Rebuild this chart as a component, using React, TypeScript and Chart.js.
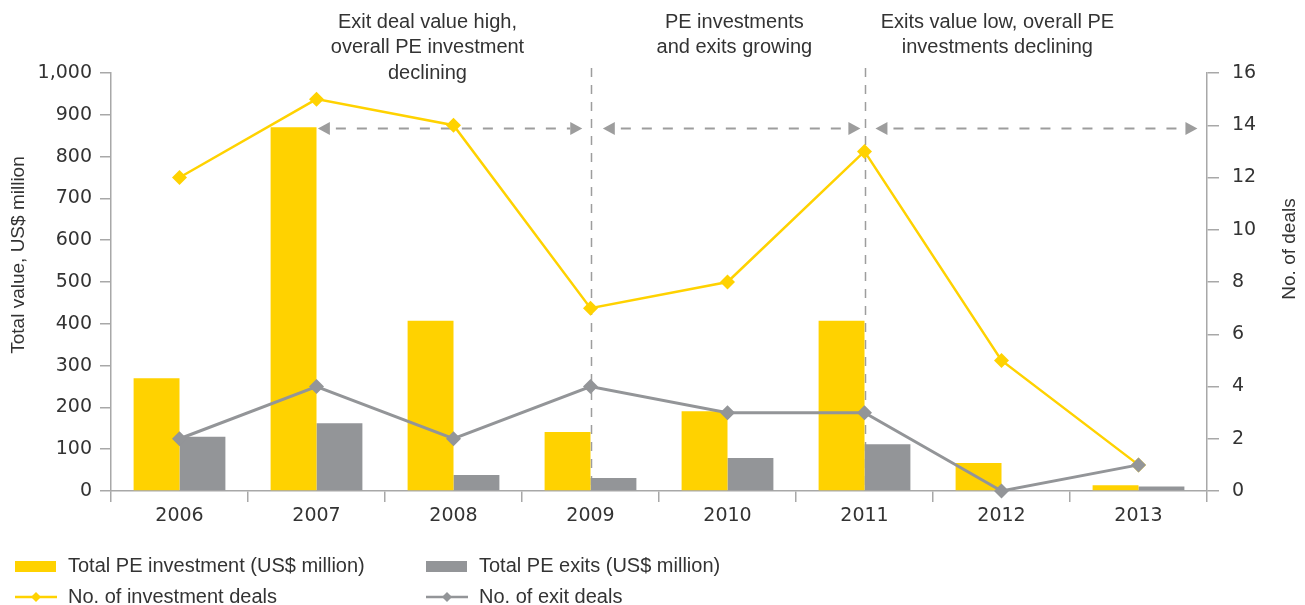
import React, { useEffect, useRef } from "react";
import { Chart, registerables } from "chart.js";

Chart.register(...registerables);

// ---- data ----
const years = ["2006", "2007", "2008", "2009", "2010", "2011", "2012", "2013"];
const peInvestment = [270, 870, 407, 141, 191, 407, 67, 14];
const peExits = [130, 162, 38, 31, 79, 112, 0, 11];
const investmentDeals = [12, 15, 14, 7, 8, 13, 5, 1];
const exitDeals = [2, 4, 2, 4, 3, 3, 0, 1];

const leftMax = 1000;
const leftStep = 100;
const rightMax = 16;
const rightStep = 2;

const leftTitle = "Total value, US$ million";
const rightTitle = "No. of deals";

const phaseLabels = [
  ["Exit deal value high,", "overall PE investment", "declining"],
  ["PE investments", "and exits growing"],
  ["Exits value low, overall PE", "investments declining"],
];
const phaseCenters = [1.81, 4.05, 5.97]; // category index units
const phaseDividers = [3, 5];
const phaseArrows = [
  [1.01, 2.94],
  [3.09, 4.97],
  [5.08, 7.43],
];
const arrowLevel = 13.9; // right-axis units

const YELLOW = "#FFD200";
const GRAY = "#939598";
const AXIS = "#a8a8a8";
const TEXT = "#333333";
const LABEL_FONT = '"Liberation Sans", Arial, sans-serif';
const TICK_FONT = '"DejaVu Sans", Verdana, sans-serif';

const overlayPlugin = {
  id: "overlay",
  beforeDatasetsDraw(chart: any) {
    const { ctx, chartArea, scales } = chart;
    const x = scales.x;
    const yR = scales.y1;
    ctx.save();
    ctx.strokeStyle = "#9d9d9d";
    ctx.fillStyle = "#9d9d9d";
    ctx.lineWidth = 1.5;
    ctx.setLineDash([9, 8]);
    phaseDividers.forEach((v) => {
      const px = Math.round(x.getPixelForValue(v)) + 0.5;
      ctx.beginPath();
      ctx.moveTo(px, chartArea.top - 5);
      ctx.lineTo(px, chartArea.bottom);
      ctx.stroke();
    });
    const ay = Math.round(yR.getPixelForValue(arrowLevel)) + 0.5;
    const headL = 12;
    const headH = 6.5;
    phaseArrows.forEach(([a, b]) => {
      const x0 = x.getPixelForValue(a);
      const x1 = x.getPixelForValue(b);
      ctx.setLineDash([10, 11]);
      ctx.lineWidth = 2;
      ctx.beginPath();
      ctx.moveTo(x0 + headL + 6, ay);
      ctx.lineTo(x1 - headL, ay);
      ctx.stroke();
      ctx.setLineDash([]);
      ctx.beginPath();
      ctx.moveTo(x0, ay);
      ctx.lineTo(x0 + headL, ay - headH);
      ctx.lineTo(x0 + headL, ay + headH);
      ctx.closePath();
      ctx.fill();
      ctx.beginPath();
      ctx.moveTo(x1, ay);
      ctx.lineTo(x1 - headL, ay - headH);
      ctx.lineTo(x1 - headL, ay + headH);
      ctx.closePath();
      ctx.fill();
    });
    ctx.restore();
  },
  afterDraw(chart: any) {
    const { ctx, scales, data } = chart;
    const x = scales.x;
    ctx.save();
    // phase annotations
    ctx.fillStyle = TEXT;
    ctx.font = `20px ${LABEL_FONT}`;
    ctx.textAlign = "center";
    ctx.textBaseline = "middle";
    phaseLabels.forEach((lines, i) => {
      const cx = x.getPixelForValue(phaseCenters[i]);
      lines.forEach((t, j) => ctx.fillText(t, cx, 22 + j * 25.5));
    });
    // axis titles
    ctx.font = `19px ${LABEL_FONT}`;
    ctx.save();
    ctx.translate(19, 255);
    ctx.rotate(-Math.PI / 2);
    ctx.fillText(leftTitle, 0, 0);
    ctx.restore();
    ctx.save();
    ctx.translate(1290, 249);
    ctx.rotate(-Math.PI / 2);
    ctx.fillText(rightTitle, 0, 0);
    ctx.restore();

    // legend (2 columns x 2 rows)
    const ds = data.datasets;
    const cols = [15, 426];
    const rows = [566, 597];
    const items = [
      { d: ds[2], col: 0, row: 0, kind: "bar" },
      { d: ds[3], col: 1, row: 0, kind: "bar" },
      { d: ds[1], col: 0, row: 1, kind: "line" },
      { d: ds[0], col: 1, row: 1, kind: "line" },
    ];
    ctx.font = `20px ${LABEL_FONT}`;
    ctx.textAlign = "left";
    items.forEach((it) => {
      const lx = cols[it.col];
      const ly = rows[it.row];
      if (it.kind === "bar") {
        ctx.fillStyle = it.d.backgroundColor;
        ctx.fillRect(lx, ly - 5, 41, 11);
      } else {
        ctx.strokeStyle = it.d.borderColor;
        ctx.lineWidth = 2.5;
        ctx.beginPath();
        ctx.moveTo(lx, ly);
        ctx.lineTo(lx + 42, ly);
        ctx.stroke();
        ctx.fillStyle = it.d.borderColor;
        const r = 5;
        const cx = lx + 21;
        ctx.beginPath();
        ctx.moveTo(cx, ly - r);
        ctx.lineTo(cx + r, ly);
        ctx.lineTo(cx, ly + r);
        ctx.lineTo(cx - r, ly);
        ctx.closePath();
        ctx.fill();
      }
      ctx.fillStyle = TEXT;
      ctx.fillText(it.d.label, lx + 53, ly);
    });
    ctx.restore();
  },
};

export default function App() {
  const ref = useRef<HTMLCanvasElement>(null);

  useEffect(() => {
    if (!ref.current) return;
    const chart = new Chart(ref.current, {
      type: "bar",
      data: {
        labels: years,
        datasets: [
          {
            type: "line",
            label: "No. of exit deals",
            data: exitDeals,
            yAxisID: "y1",
            borderColor: GRAY,
            backgroundColor: GRAY,
            borderWidth: 3,
            pointStyle: "rectRot",
            pointRadius: 7.5,
            pointBorderWidth: 0,
            pointBackgroundColor: GRAY,
            order: 0,
            clip: false,
          } as any,
          {
            type: "line",
            label: "No. of investment deals",
            data: investmentDeals,
            yAxisID: "y1",
            borderColor: YELLOW,
            backgroundColor: YELLOW,
            borderWidth: 2.5,
            pointStyle: "rectRot",
            pointRadius: 7.5,
            pointBorderWidth: 0,
            pointBackgroundColor: YELLOW,
            order: 1,
            clip: false,
          } as any,
          {
            type: "bar",
            label: "Total PE investment (US$ million)",
            data: peInvestment,
            yAxisID: "y",
            backgroundColor: YELLOW,
            categoryPercentage: 0.67,
            barPercentage: 1,
            order: 2,
          },
          {
            type: "bar",
            label: "Total PE exits (US$ million)",
            data: peExits,
            yAxisID: "y",
            backgroundColor: GRAY,
            categoryPercentage: 0.67,
            barPercentage: 1,
            order: 3,
          },
        ],
      },
      options: {
        responsive: false,
        animation: false,
        layout: { padding: { left: 0, right: 0, top: 73, bottom: 74 } },
        plugins: {
          legend: { display: false },
          tooltip: { enabled: false },
        },
        scales: {
          x: {
            offset: true,
            grid: {
              display: true,
              offset: true,
              drawOnChartArea: false,
              drawTicks: true,
              tickLength: 11,
              color: AXIS,
              lineWidth: 1.5,
            },
            border: { color: AXIS, width: 1.5 },
            ticks: {
              color: TEXT,
              font: { family: TICK_FONT, size: 19 },
              padding: 3,
            },
            afterFit: (s: any) => {
              s.height = 40;
            },
          },
          y: {
            position: "left",
            min: 0,
            max: leftMax,
            grid: {
              drawOnChartArea: false,
              drawTicks: true,
              tickLength: 11,
              color: AXIS,
              lineWidth: 1.5,
            },
            border: { color: AXIS, width: 1.5 },
            ticks: {
              stepSize: leftStep,
              color: TEXT,
              font: { family: TICK_FONT, size: 19 },
              padding: 8,
            },
            afterFit: (s: any) => {
              s.width = 111;
            },
          },
          y1: {
            position: "right",
            min: 0,
            max: rightMax,
            grid: {
              drawOnChartArea: false,
              drawTicks: true,
              tickLength: 12,
              color: AXIS,
              lineWidth: 1.5,
            },
            border: { color: AXIS, width: 1.5 },
            ticks: {
              stepSize: rightStep,
              color: TEXT,
              font: { family: TICK_FONT, size: 19 },
              padding: 13,
            },
            afterFit: (s: any) => {
              s.width = 98;
            },
          },
        },
      } as any,
      plugins: [overlayPlugin],
    });
    return () => chart.destroy();
  }, []);

  return (
    <div style={{ position: "fixed", left: 0, top: 0, width: 1305, height: 605, background: "#fff" }}>
      <canvas ref={ref} width={1305} height={605} style={{ display: "block" }} />
    </div>
  );
}
